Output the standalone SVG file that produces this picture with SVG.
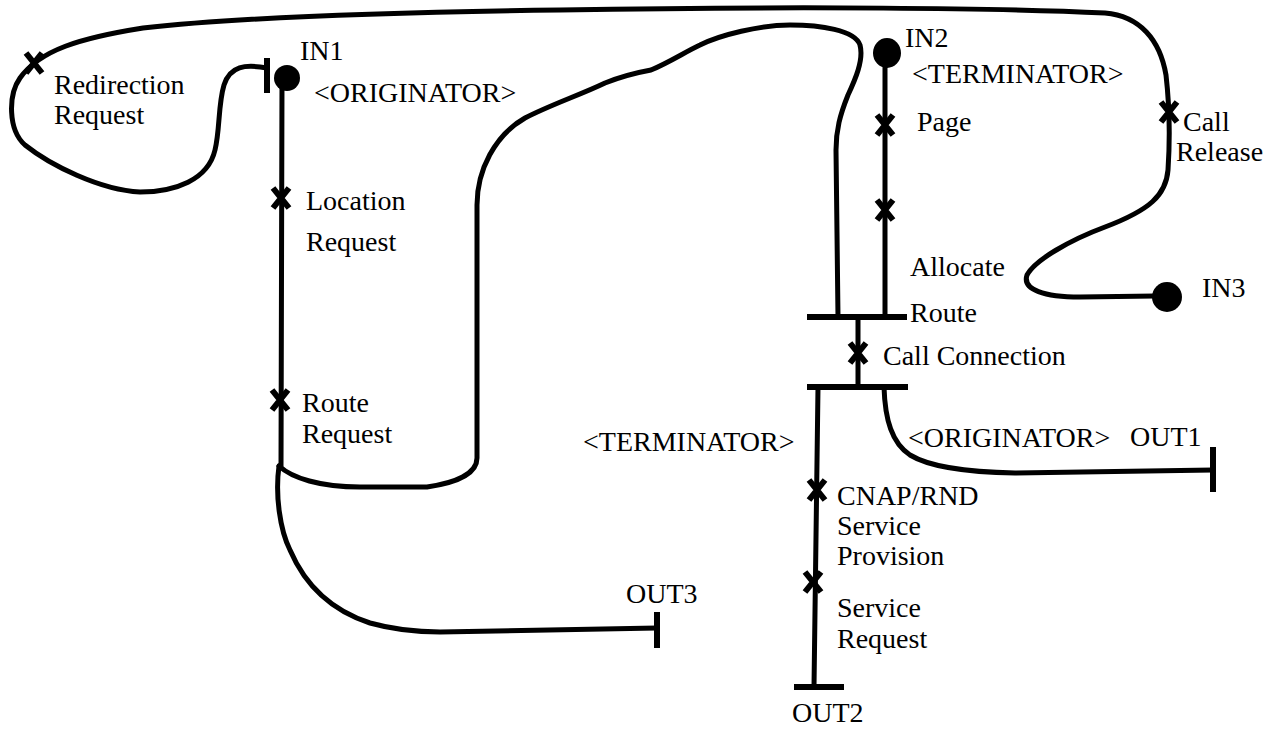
<svg xmlns="http://www.w3.org/2000/svg" width="1272" height="730" viewBox="0 0 1272 730">
<style>
.p{fill:none;stroke:#000;stroke-width:5;stroke-linecap:round;stroke-linejoin:round}
.bar{fill:none;stroke:#000;stroke-width:6;stroke-linecap:butt}
.t{font-family:"Liberation Serif","Times New Roman",serif;font-size:28px;fill:#000}
.x{fill:none;stroke:#000;stroke-width:6;stroke-linecap:butt}
</style>
<defs>
<path id="xm" class="x" d="M-8,-10 L8,10 M8,-10 L-8,10"/>
</defs>
<rect width="1272" height="730" fill="#fff"/>
<g id="connectors">
<path class="p" d="M267 68 C245 64,230 66,224 85 C218 105,220 130,215 150 C208 180,175 192,140 192 C100 190,50 165,25 145 C8 130,8 95,20 78 C40 50,80 38,143 28 C250 16,400 12,560 10 C800 6,1000 8,1105 13 C1140 16,1160 40,1166 75 C1170 110,1170 140,1168 170 C1166 195,1150 210,1105 227 C1070 240,1035 260,1027 275 C1022 290,1045 297,1080 297 L1155 296"/>
<path class="p" d="M282 80 L281 466"/>
<path class="p" d="M279 466 C292 478,320 487,360 487 L427 487 C455 483,477 474,477 458 L477 205 C477 170,495 135,525 118 C550 105,580 95,605 83 C625 75,640 72,651 70 C670 62,685 52,700 45 C720 35,760 25,790 25 C820 25,855 30,860 45 C864 60,855 80,848 95 C840 115,836 130,836 150 L838 317"/>
<path class="p" d="M279 466 C275 495,280 530,290 550 C305 585,330 610,370 623 C395 630,420 632,440 632 L657 628"/>
<path class="p" d="M885 60 L885 317"/>
<path class="p" d="M858 317 L858 387"/>
<path class="p" d="M884 387 C885 420,892 443,910 455 C928 466,960 472,1015 473 L1213 470"/>
<path class="p" d="M818 387 L814 687"/>
</g>
<g id="IN1">
<line class="bar" x1="267" y1="58" x2="267" y2="93"/>
<circle cx="287" cy="78" r="13"/>
<text class="t" x="300" y="60">IN1</text>
<text class="t" x="314" y="102">&lt;ORIGINATOR&gt;</text>
</g>
<g id="IN2">
<ellipse cx="887" cy="53" rx="14" ry="15"/>
<text class="t" x="905" y="47">IN2</text>
<text class="t" x="912" y="83">&lt;TERMINATOR&gt;</text>
</g>
<g id="IN3">
<circle cx="1167" cy="297" r="15"/>
<text class="t" x="1202" y="297">IN3</text>
</g>
<g id="redirection-request">
<use href="#xm" x="34" y="63"/>
<text class="t" x="54" y="94">Redirection</text>
<text class="t" x="54" y="124">Request</text>
</g>
<g id="location-request">
<use href="#xm" x="281" y="198"/>
<text class="t" x="306" y="210">Location</text>
<text class="t" x="306" y="251">Request</text>
</g>
<g id="route-request">
<use href="#xm" x="280" y="400"/>
<text class="t" x="302" y="412">Route</text>
<text class="t" x="302" y="443">Request</text>
</g>
<g id="page">
<use href="#xm" x="885" y="125"/>
<text class="t" x="917" y="131">Page</text>
</g>
<g id="allocate-route">
<use href="#xm" x="885" y="210"/>
<text class="t" x="910" y="276">Allocate</text>
<text class="t" x="910" y="322">Route</text>
</g>
<g id="call-release">
<use href="#xm" x="1169" y="112"/>
<text class="t" x="1183" y="131">Call</text>
<text class="t" x="1176" y="161">Release</text>
</g>
<g id="join-bar">
<line class="bar" x1="807" y1="317" x2="907" y2="317"/>
</g>
<g id="call-connection">
<use href="#xm" x="858" y="353"/>
<text class="t" x="883" y="365">Call Connection</text>
</g>
<g id="fork-bar">
<line class="bar" x1="807" y1="387" x2="908" y2="387"/>
<text class="t" x="583" y="451">&lt;TERMINATOR&gt;</text>
</g>
<g id="OUT1">
<line class="bar" x1="1213" y1="447" x2="1213" y2="492"/>
<text class="t" x="908" y="447">&lt;ORIGINATOR&gt;</text>
<text class="t" x="1130" y="446">OUT1</text>
</g>
<g id="cnap-rnd">
<use href="#xm" x="817" y="490"/>
<text class="t" x="837" y="505">CNAP/RND</text>
<text class="t" x="837" y="535">Service</text>
<text class="t" x="837" y="565">Provision</text>
</g>
<g id="service-request">
<use href="#xm" x="813" y="582"/>
<text class="t" x="837" y="617">Service</text>
<text class="t" x="837" y="648">Request</text>
</g>
<g id="OUT2">
<line class="bar" x1="794" y1="687" x2="844" y2="687"/>
<text class="t" x="792" y="722">OUT2</text>
</g>
<g id="OUT3">
<line class="bar" x1="657" y1="612" x2="657" y2="648"/>
<text class="t" x="626" y="603">OUT3</text>
</g>
</svg>
